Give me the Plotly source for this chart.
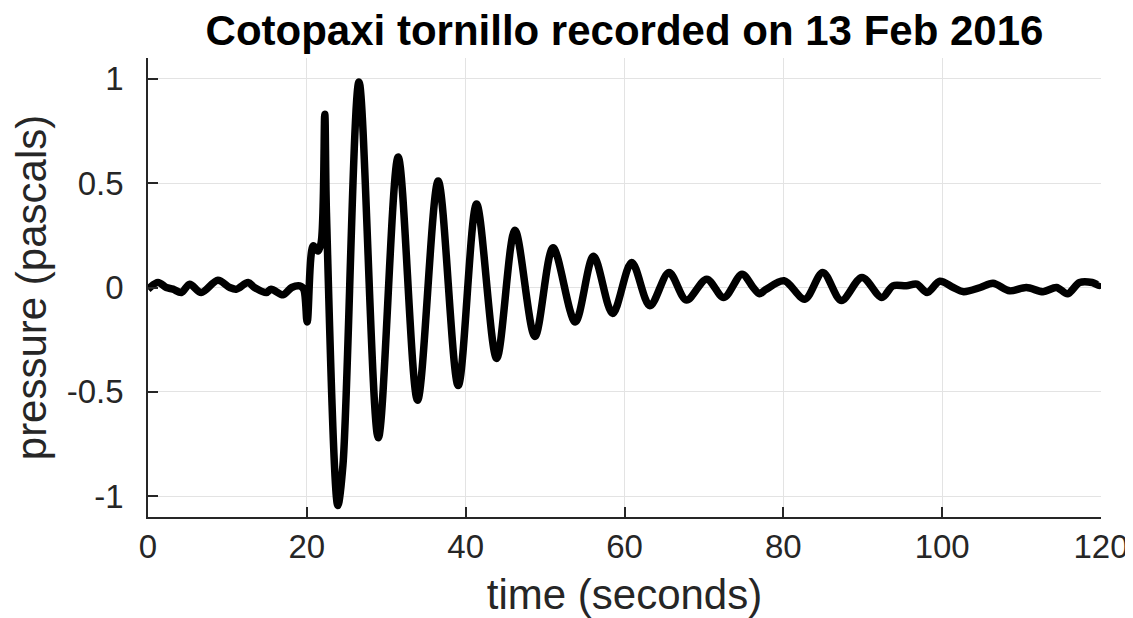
import plotly.graph_objects as go

# Time (s) and pressure (Pa)
time_s = [0.0, 1.26, 2.3, 3.15, 4.2, 5.25, 6.7, 8.8, 10.3, 11.1, 12.6, 13.4, 14.9, 15.5,
          17.0, 18.1, 19.1, 19.6, 20.04, 20.8, 21.4, 21.8, 22.26, 22.47, 23.9, 24.55,
          26.57, 29.0, 31.5, 33.94, 36.54, 39.06, 41.37, 43.9, 46.2, 48.72, 51.0, 53.8,
          56.1, 58.5, 60.9, 63.2, 65.6, 67.8, 70.35, 72.5, 74.8, 76.2, 77.0, 77.8, 80.1,
          82.7, 84.97, 87.3, 89.9, 92.4, 93.8, 95.5, 96.8, 98.1, 99.7, 101.4, 102.7,
          104.8, 106.4, 108.5, 110.6, 112.7, 114.4, 115.8, 117.3, 118.9, 119.8, 120.0]
pressure_pa = [-0.008, 0.024, 0.0, -0.008, -0.024, 0.016, -0.024, 0.035, 0.0, -0.008, 0.024,
               0.0, -0.024, -0.008, -0.035, 0.0, 0.008, -0.008, -0.165, 0.2, 0.175, 0.215,
               0.83, 0.36, -1.045, -0.85, 0.985, -0.72, 0.625, -0.54, 0.51, -0.47, 0.40,
               -0.34, 0.275, -0.235, 0.19, -0.165, 0.15, -0.125, 0.12, -0.088, 0.072, -0.06,
               0.04, -0.048, 0.064, 0.0, -0.03, -0.01, 0.032, -0.056, 0.072, -0.062, 0.048,
               -0.048, 0.008, 0.008, 0.016, -0.024, 0.03, 0.0, -0.02, 0.0, 0.02, -0.016,
               0.0, -0.02, 0.0, -0.03, 0.024, 0.024, 0.01, 0.02]

x_ticks = [0, 20, 40, 60, 80, 100, 120]
y_ticks = [-1, -0.5, 0, 0.5, 1]
y_tick_text = ["-1", "-0.5", "0", "0.5", "1"]

FONT = "Liberation Sans, Arial, Helvetica, sans-serif"
AXIS_COLOR = "#262626"
GRID_COLOR = "#e3e3e3"

# the page body adds an 8px offset, so the figure is sized to fit inside the window
W, H = 1125, 610

fig = go.Figure()
fig.add_trace(go.Scatter(
    x=time_s, y=pressure_pa, mode="lines",
    line=dict(color="black", width=7.5, shape="spline", smoothing=0.9),
    showlegend=False, hoverinfo="x+y",
))

fig.update_layout(
    template="none",
    width=W, height=H,
    margin=dict(l=140, r=32, t=50, b=101),
    paper_bgcolor="white", plot_bgcolor="white",
    font=dict(family=FONT, color=AXIS_COLOR),
    title=dict(
        text="<b>Cotopaxi tornillo recorded on 13 Feb 2016</b>",
        font=dict(family=FONT, size=42, color="black"),
        x=0.5, xref="paper", xanchor="center",
        y=1 - 22 / H, yref="container", yanchor="middle",
        automargin=False,
    ),
)

fig.update_xaxes(
    range=[0, 120], tickvals=x_ticks,
    showgrid=True, gridcolor=GRID_COLOR, gridwidth=1,
    showline=True, linecolor=AXIS_COLOR, linewidth=1.5,
    ticks="inside", ticklen=10, tickcolor=AXIS_COLOR, tickwidth=1.5,
    tickfont=dict(family=FONT, size=33, color=AXIS_COLOR),
    ticklabelstandoff=0,
    zeroline=False, automargin=False,
    title=dict(text="time (seconds)", font=dict(family=FONT, size=42, color=AXIS_COLOR),
               standoff=15),
)
fig.update_yaxes(
    range=[-1.1, 1.1], tickvals=y_ticks, ticktext=y_tick_text,
    showgrid=True, gridcolor=GRID_COLOR, gridwidth=1,
    showline=True, linecolor=AXIS_COLOR, linewidth=1.5,
    ticks="inside", ticklen=10, tickcolor=AXIS_COLOR, tickwidth=1.5,
    tickfont=dict(family=FONT, size=33, color=AXIS_COLOR),
    ticklabelstandoff=16,
    zeroline=False, automargin=False,
    title=dict(text="pressure (pascals)", font=dict(family=FONT, size=42, color=AXIS_COLOR),
               standoff=20),
)

fig.write_html("out.html")
